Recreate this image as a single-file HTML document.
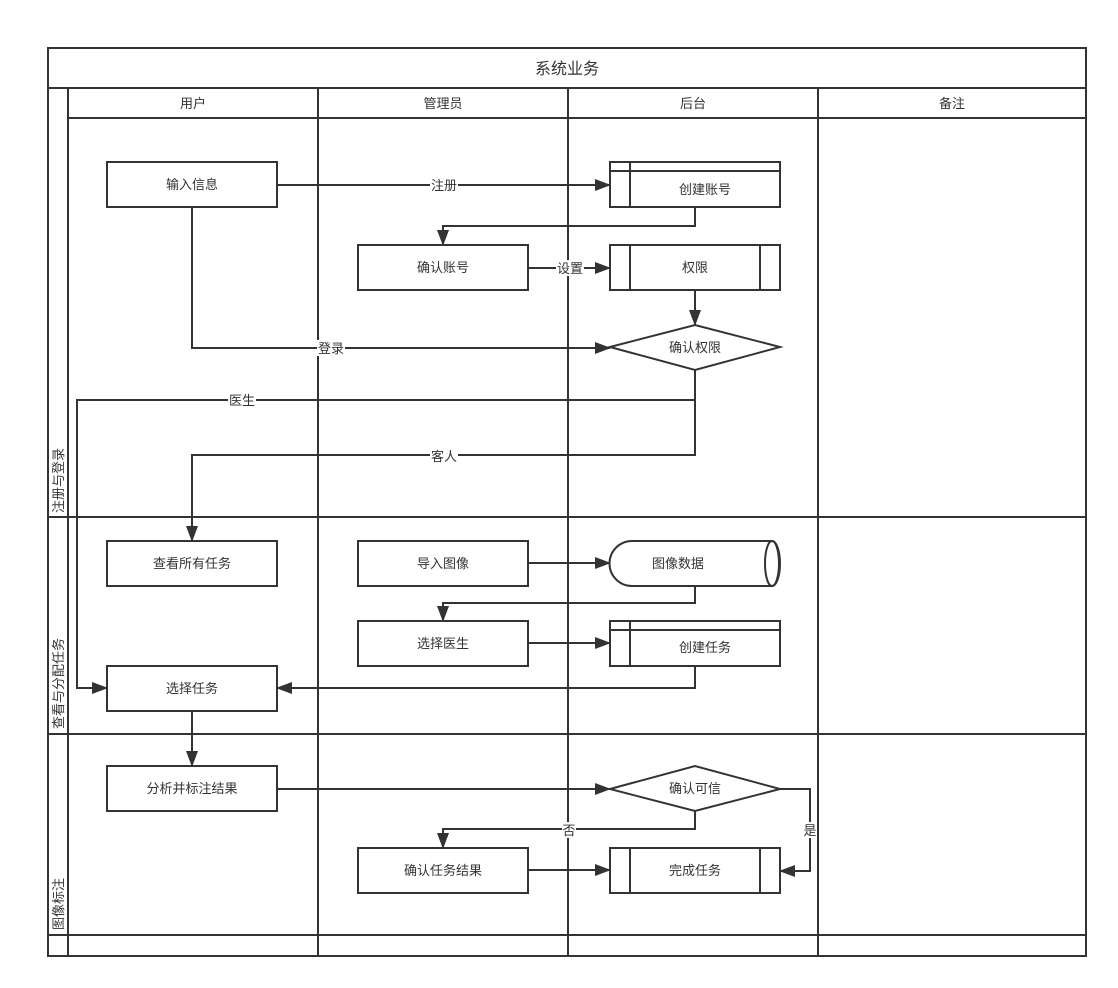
<!DOCTYPE html>
<html><head><meta charset="utf-8"><style>
html,body{margin:0;padding:0;background:#fff;}
svg{display:block;}
text{font-family:"Liberation Sans","Noto Sans CJK SC",sans-serif;font-size:13px;fill:#333;}
</style></head><body>
<svg width="1118" height="988" viewBox="0 0 1118 988" xmlns="http://www.w3.org/2000/svg">
<defs><marker id="a" markerWidth="16" markerHeight="12" refX="15" refY="6" orient="auto" markerUnits="userSpaceOnUse"><path d="M0,0 L16,6 L0,12 Z" fill="#333"/></marker></defs>
<g fill="none" stroke="#333" stroke-width="2">
<rect x="48" y="48" width="1038" height="908"/>
<line x1="48" y1="88" x2="1086" y2="88"/>
<line x1="68" y1="118" x2="1086" y2="118"/>
<line x1="68" y1="88" x2="68" y2="956"/>
<line x1="318" y1="88" x2="318" y2="956"/>
<line x1="568" y1="88" x2="568" y2="956"/>
<line x1="818" y1="88" x2="818" y2="956"/>
<line x1="48" y1="517" x2="1086" y2="517"/>
<line x1="48" y1="734" x2="1086" y2="734"/>
<line x1="48" y1="935" x2="1086" y2="935"/>
</g>
<text x="567" y="74" text-anchor="middle" style="font-size:16px">系统业务</text>
<text x="193" y="108" text-anchor="middle">用户</text>
<text x="443" y="108" text-anchor="middle">管理员</text>
<text x="693" y="108" text-anchor="middle">后台</text>
<text x="952" y="108" text-anchor="middle">备注</text>
<text transform="translate(63,513) rotate(-90)" text-anchor="start">注册与登录</text>
<text transform="translate(63,729) rotate(-90)" text-anchor="start">查看与分配任务</text>
<text transform="translate(63,930) rotate(-90)" text-anchor="start">图像标注</text>
<g fill="none" stroke="#333" stroke-width="2">
<path d="M277,185 H610" marker-end="url(#a)"/>
<path d="M695,207 V226 H443 V245" marker-end="url(#a)"/>
<path d="M528,268 H610" marker-end="url(#a)"/>
<path d="M695,290 V325" marker-end="url(#a)"/>
<path d="M192,207 V348 H610" marker-end="url(#a)"/>
<path d="M695,370 V400 H77 V688 H107" marker-end="url(#a)"/>
<path d="M695,400 V455 H192 V541" marker-end="url(#a)"/>
<path d="M528,563 H610" marker-end="url(#a)"/>
<path d="M695,586 V603 H443 V621" marker-end="url(#a)"/>
<path d="M528,643 H610" marker-end="url(#a)"/>
<path d="M695,666 V688 H277" marker-end="url(#a)"/>
<path d="M192,711 V766" marker-end="url(#a)"/>
<path d="M277,789 H610" marker-end="url(#a)"/>
<path d="M695,811 V829 H443 V848" marker-end="url(#a)"/>
<path d="M780,789 H810 V871 H780" marker-end="url(#a)"/>
<path d="M528,870 H610" marker-end="url(#a)"/>
</g>
<g fill="#fff" stroke="#333" stroke-width="2">
<rect x="107" y="162" width="170" height="45"/>
<rect x="610" y="162" width="170" height="45"/>
<rect x="358" y="245" width="170" height="45"/>
<rect x="610" y="245" width="170" height="45"/>
<polygon points="610,347 695,325 780,347 695,370"/>
<rect x="107" y="541" width="170" height="45"/>
<rect x="358" y="541" width="170" height="45"/>
<path d="M632,541 H772 A8,22.5 0 0 1 772,586 H632 A22.5,22.5 0 0 1 632,541 Z"/>
<rect x="358" y="621" width="170" height="45"/>
<rect x="610" y="621" width="170" height="45"/>
<rect x="107" y="666" width="170" height="45"/>
<rect x="107" y="766" width="170" height="45"/>
<polygon points="610,789 695,766 780,789 695,811"/>
<rect x="358" y="848" width="170" height="45"/>
<rect x="610" y="848" width="170" height="45"/>
</g>
<g fill="none" stroke="#333" stroke-width="2">
<path d="M610,171 H780 M630,162 V207"/>
<path d="M630,245 V290 M760,245 V290"/>
<ellipse cx="772" cy="563.5" rx="7" ry="22.5"/>
<path d="M610,630 H780 M630,621 V666"/>
<path d="M630,848 V893 M760,848 V893"/>
</g>
<g text-anchor="middle">
<text x="192" y="189">输入信息</text>
<text x="705" y="194">创建账号</text>
<text x="443" y="272">确认账号</text>
<text x="695" y="272">权限</text>
<text x="695" y="352">确认权限</text>
<text x="192" y="568">查看所有任务</text>
<text x="443" y="568">导入图像</text>
<text x="678" y="568">图像数据</text>
<text x="443" y="648">选择医生</text>
<text x="705" y="652">创建任务</text>
<text x="192" y="693">选择任务</text>
<text x="192" y="793">分析并标注结果</text>
<text x="695" y="793">确认可信</text>
<text x="443" y="875">确认任务结果</text>
<text x="695" y="875">完成任务</text>
</g>
<g text-anchor="middle">
<rect x="430" y="177" width="28" height="16" fill="#fff"/><text x="444" y="190">注册</text>
<rect x="556" y="260" width="28" height="16" fill="#fff"/><text x="570" y="273">设置</text>
<rect x="317" y="340" width="28" height="16" fill="#fff"/><text x="331" y="353">登录</text>
<rect x="228" y="392" width="28" height="16" fill="#fff"/><text x="242" y="405">医生</text>
<rect x="430" y="448" width="28" height="16" fill="#fff"/><text x="444" y="461">客人</text>
<rect x="562" y="822" width="14" height="16" fill="#fff"/><text x="569" y="835">否</text>
<rect x="803" y="822" width="14" height="16" fill="#fff"/><text x="810" y="835">是</text>
</g>
</svg>
</body></html>
